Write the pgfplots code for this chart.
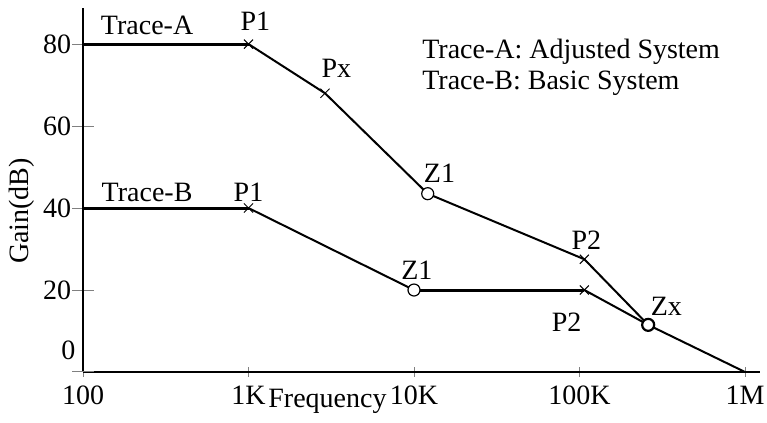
\documentclass[border=0pt]{standalone}
\usepackage{fontspec}
\setmainfont{Liberation Serif}
\usepackage{pgfplots}
\pgfplotsset{compat=1.18}

\begin{document}
\begin{tikzpicture}
  \fontsize{14}{16}\selectfont
  % fixed page frame around the axis
  \path[use as bounding box] (-41.5pt,-25.5pt) rectangle (342pt,186pt);
  \begin{axis}[
    scale only axis,
    width=338.5pt, height=182pt,
    xmode=log, log basis x=10,
    xmin=100, xmax=1.232e6,
    ymin=0, ymax=88.8,
    axis lines=left,
    axis line style={-, line width=0.6pt},
    xminorticks=false,
    xtick={100,1000,10000,100000,1000000},
    xticklabels={100,1K,10K,100K,1M},
    ytick={20,40,60,80},
    extra y ticks={0},
    extra y tick style={/pgfplots/major tick length=0pt, yticklabel style={yshift=11pt}},
    tick align=center,
    xtick style={/pgfplots/major tick length=5pt, line width=0.5pt},
    ytick style={/pgfplots/major tick length=11pt, line width=0.5pt},
    tick label style={font=\fontsize{14}{16}\selectfont},
    yticklabel style={xshift=1pt},
    /pgf/number format/assume math mode=true,
    clip=false,
  ]
    % flat low-frequency parts
    \addplot[black, line width=1.5pt] coordinates {(100,80) (1000,80)};
    \addplot[black, line width=1.5pt] coordinates {(100,40) (1000,40)};
    \addplot[black, line width=1.5pt] coordinates {(10000,20) (1.07e5,20)};
    % Trace-A: adjusted system
    \addplot[black, line width=1pt] coordinates {
      (1000,80) (2900,68) (12100,43.5) (1.07e5,27.5) (2.6e5,11.5) (1e6,0)};
    % Trace-B: basic system
    \addplot[black, line width=1pt] coordinates {
      (1000,40) (10000,20) (1.07e5,20) (2.6e5,11.5)};
    % poles
    \addplot[only marks, mark=x, mark size=3.2pt, mark options={line width=0.5pt}]
      coordinates {(1000,80) (2900,68) (1.07e5,27.5) (1000,40) (1.07e5,20)};
    % zeros
    \addplot[only marks, mark=*, mark size=3pt, mark options={fill=white, draw=black, line width=0.6pt}]
      coordinates {(12100,43.5) (10000,20)};
    \addplot[only marks, mark=*, mark size=3pt, mark options={fill=white, draw=black, line width=1.1pt}]
      coordinates {(2.6e5,11.5)};

    \node at (axis cs:244,84.6) {Trace-A};
    \node at (axis cs:244,43.7) {Trace-B};
    \node at (axis cs:1100,85.5) {P1};
    \node at (axis cs:1000,43.9) {P1};
    \node at (axis cs:3400,74.1) {Px};
    \node at (axis cs:14260,48.5) {Z1};
    \node at (axis cs:10400,24.9) {Z1};
    \node at (axis cs:1.1e5,32.2) {P2};
    \node at (axis cs:83700,12.2) {P2};
    \node at (axis cs:3.35e5,15.9) {Zx};
    \node[anchor=west, inner sep=0pt] at (axis cs:11170,78.0) {Trace-A: Adjusted System};
    \node[anchor=west, inner sep=0pt] at (axis cs:11170,70.5) {Trace-B: Basic System};
    \node[inner sep=0pt] at (axis cs:3000,-7.2) {Frequency};
    \node[rotate=90] at ([xshift=-30.5pt]rel axis cs:0,0.442) {Gain(dB)};
  \end{axis}
\end{tikzpicture}
\end{document}
